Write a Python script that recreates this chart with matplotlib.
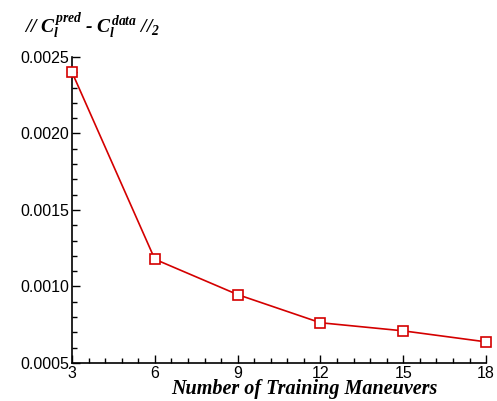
import numpy as np
import matplotlib
matplotlib.use("Agg")
import matplotlib.pyplot as plt
from matplotlib.ticker import MultipleLocator, FormatStrFormatter

# error norm vs number of training maneuvers
n_maneuvers = [3, 6, 9, 12, 15, 18]
err_norm = [0.00240, 0.001178, 0.000947, 0.000763, 0.000710, 0.000638]

x_ticks = [3, 6, 9, 12, 15, 18]
y_ticks = [0.0005, 0.0010, 0.0015, 0.0020, 0.0025]

plt.rcParams['mathtext.fontset'] = 'custom'
plt.rcParams['mathtext.rm'] = 'Liberation Serif:italic:bold'
plt.rcParams['mathtext.it'] = 'Liberation Serif:italic:bold'
plt.rcParams['mathtext.bf'] = 'Liberation Serif:italic:bold'

serif_bi = dict(family='Liberation Serif', style='italic', weight='bold')

fig = plt.figure(figsize=(4.97, 4.01), dpi=100)
ax = fig.add_axes([0.1449, 0.0948, 0.978 - 0.1449, 0.858 - 0.0948])

ax.plot(n_maneuvers, err_norm, color='#d40000', lw=1.2, marker='s',
        markersize=7, markerfacecolor='white', markeredgecolor='#d40000',
        markeredgewidth=1.2, clip_on=False, zorder=3)

ax.set_xlim(3, 18)
ax.set_ylim(0.0005, 0.0025)
ax.set_xticks(x_ticks)
ax.set_yticks(y_ticks)
ax.yaxis.set_major_formatter(FormatStrFormatter('%.4f'))
ax.xaxis.set_minor_locator(MultipleLocator(0.6))
ax.yaxis.set_minor_locator(MultipleLocator(0.0001))

for side in ['top', 'right']:
    ax.spines[side].set_visible(False)
for side in ['left', 'bottom']:
    ax.spines[side].set_linewidth(1.2)

ax.tick_params(which='both', direction='in', width=1.0, labelsize=11.5,
               labelfontfamily='Liberation Sans')
ax.tick_params(which='major', length=6, pad=2)
ax.tick_params(which='minor', length=3.5)

# axis title sits just under the tick labels, shifted right
fig.text(0.613, 0.0175, 'Number of Training Maneuvers', fontsize=14.5,
         ha='center', va='baseline', **serif_bi)

fig.text(0.048, 0.935, r'// $C_l^{pred}$ - $C_l^{data}$ //$_2$',
         fontsize=14, va='center', ha='left', **serif_bi)

fig.savefig('out.png', dpi=100)
